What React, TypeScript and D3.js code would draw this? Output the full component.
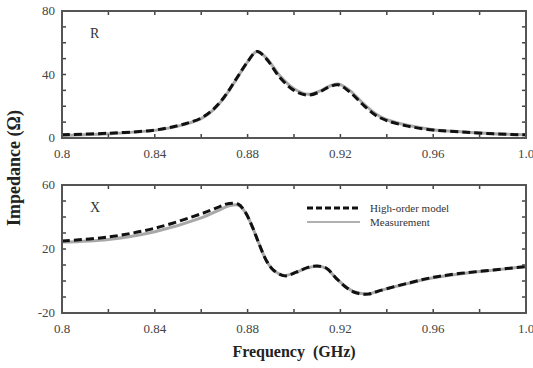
import React, { useEffect, useRef } from "react";
import * as d3 from "d3";

// frequency grid (GHz) and series
const rFreq = [0.8, 0.82, 0.84, 0.85, 0.855, 0.86, 0.865, 0.87, 0.875, 0.88, 0.884, 0.888, 0.894, 0.9, 0.906, 0.911, 0.915, 0.919, 0.924, 0.929, 0.935, 0.94, 0.949, 0.96, 0.972, 0.986, 1.0];
const rModel = [2, 3, 5, 7.8, 9.8, 12.6, 17.8, 26, 37, 48, 54.5, 50, 38, 30, 27, 29, 32, 33.5, 29, 22, 14.5, 11, 7.5, 5, 3.8, 2.6, 2];
const rMeas = [1.6, 2.7, 4.8, 7.5, 9.5, 12.2, 17.4, 25.6, 36.6, 48, 54.5, 50.5, 39, 31, 27.5, 29.5, 32.5, 34, 30, 23, 15.5, 11.5, 8, 5.2, 3.9, 2.7, 2.1];

const xFreq = [0.8, 0.82, 0.84, 0.86, 0.868, 0.872, 0.876, 0.879, 0.882, 0.885, 0.888, 0.891, 0.896, 0.901, 0.906, 0.91, 0.914, 0.918, 0.923, 0.927, 0.932, 0.937, 0.949, 0.96, 0.972, 0.986, 1.0];
const xModel = [25, 27.5, 33, 42, 46.5, 48.5, 48, 43, 34, 23, 13, 7, 3.2, 5.5, 8.5, 9.4, 8, 2, -4.6, -7.5, -8.2, -6, -1.4, 2.3, 4.8, 6.9, 9];
const xMeas = [24.3, 26, 30.8, 39.4, 44.5, 47, 47.5, 43, 34, 23, 13, 7, 3.5, 5.5, 8.3, 9.2, 7.8, 2, -4.3, -7.2, -8, -6, -1.6, 2, 4.5, 6.8, 9];

const freqTicks = [0.8, 0.84, 0.88, 0.92, 0.96, 1.0];
const rTicks = [0, 40, 80];
const xTicks = [-20, 20, 60];

const legendLabels = ["High-order model", "Measurement"];

const W = 533, H = 368;
const serif = "'Liberation Serif', 'Times New Roman', serif";

export default function App() {
    const svgRef = useRef<SVGSVGElement>(null);

    useEffect(() => {
        const svg = d3.select(svgRef.current);
        svg.selectAll("*").remove();

        const left = 62, right = 526;
        const x = d3.scaleLinear().domain([0.8, 1.0]).range([left, right]);

        const panels = [
            { top: 11, bottom: 138, domain: [0, 80], ticks: rTicks, model: rModel, meas: rMeas, freq: rFreq, label: "R" },
            { top: 185, bottom: 313, domain: [-20, 60], ticks: xTicks, model: xModel, meas: xMeas, freq: xFreq, label: "X" },
        ];

        panels.forEach((p, pi) => {
            const y = d3.scaleLinear().domain(p.domain).range([p.bottom, p.top]);
            const g = svg.append("g");

            const line = d3.line<number>()
                .x((_, i) => x(p.freq[i]))
                .y(d => y(d))
                .curve(d3.curveCatmullRom);

            g.append("path").attr("d", line(p.meas)).attr("fill", "none")
                .attr("stroke", "#a8a8a8").attr("stroke-width", 3);
            g.append("path").attr("d", line(p.model)).attr("fill", "none")
                .attr("stroke", "#111").attr("stroke-width", 3).attr("stroke-dasharray", "8,4");

            // inward ticks on all four sides
            const fMinor = d3.range(0, 11).map(i => 0.8 + i * 0.02);
            fMinor.forEach(f => {
                g.append("line").attr("x1", x(f)).attr("x2", x(f)).attr("y1", p.bottom).attr("y2", p.bottom - 4)
                    .attr("stroke", "#444").attr("stroke-width", 1.5);
                g.append("line").attr("x1", x(f)).attr("x2", x(f)).attr("y1", p.top).attr("y2", p.top + 4)
                    .attr("stroke", "#444").attr("stroke-width", 1.5);
            });
            d3.range(p.domain[0], p.domain[1] + 1, 10).forEach(v => {
                g.append("line").attr("x1", left).attr("x2", left + 4).attr("y1", y(v)).attr("y2", y(v))
                    .attr("stroke", "#444").attr("stroke-width", 1.5);
                g.append("line").attr("x1", right).attr("x2", right - 4).attr("y1", y(v)).attr("y2", y(v))
                    .attr("stroke", "#444").attr("stroke-width", 1.5);
            });

            g.append("rect").attr("x", left).attr("y", p.top).attr("width", right - left).attr("height", p.bottom - p.top)
                .attr("fill", "none").attr("stroke", "#555").attr("stroke-width", 2);

            freqTicks.forEach(f => {
                g.append("text").attr("x", x(f)).attr("y", p.bottom + 20).attr("text-anchor", "middle")
                    .attr("font-family", serif).attr("font-size", 13).attr("fill", "#444")
                    .text(f === 1 ? "1.0" : String(f));
            });
            p.ticks.forEach(v => {
                g.append("text").attr("x", left - 7).attr("y", y(v) + 4).attr("text-anchor", "end")
                    .attr("font-family", serif).attr("font-size", 13).attr("fill", "#444").text(String(v));
            });

            g.append("text").attr("x", 90).attr("y", p.top + 27).attr("font-family", serif)
                .attr("font-size", 14).attr("fill", "#333").text(p.label);

            if (pi === 1) {
                const ly = [208, 222];
                g.append("line").attr("x1", 307).attr("x2", 360).attr("y1", ly[0]).attr("y2", ly[0])
                    .attr("stroke", "#111").attr("stroke-width", 3).attr("stroke-dasharray", "6,3");
                g.append("line").attr("x1", 307).attr("x2", 360).attr("y1", ly[1]).attr("y2", ly[1])
                    .attr("stroke", "#b0b0b0").attr("stroke-width", 2);
                legendLabels.forEach((t, i) => {
                    g.append("text").attr("x", 370).attr("y", ly[i] + 4).attr("font-family", serif)
                        .attr("font-size", 11).attr("fill", "#333").text(t);
                });
            }
        });

        svg.append("text").attr("transform", "translate(20,168) rotate(-90)")
            .attr("text-anchor", "middle").attr("font-family", serif).attr("font-weight", "bold")
            .attr("font-size", 18).attr("fill", "#222").text("Impedance (Ω)");
        svg.append("text").attr("x", (left + right) / 2).attr("y", 357)
            .attr("text-anchor", "middle").attr("font-family", serif).attr("font-weight", "bold")
            .attr("font-size", 16).attr("fill", "#222").attr("xml:space", "preserve").text("Frequency  (GHz)");
    }, []);

    return (
        <svg ref={svgRef} width={W} height={H}
            style={{ position: "absolute", left: 0, top: 0, background: "white" }} />
    );
}
